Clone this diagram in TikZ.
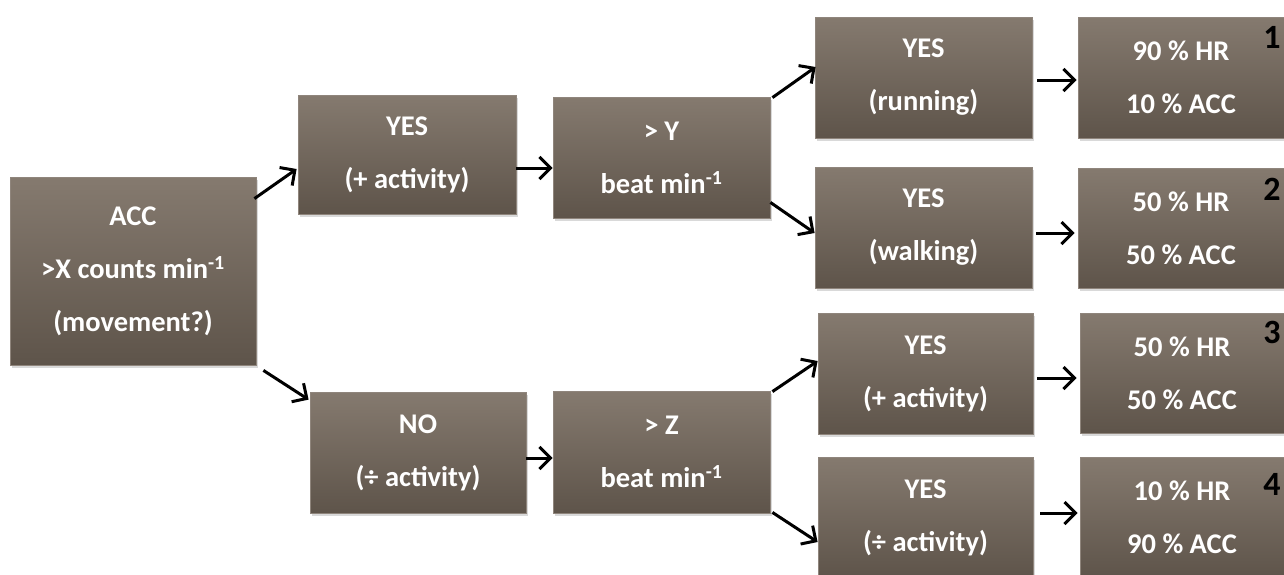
\documentclass[tikz,border=0pt]{standalone}
\usepackage{fontspec}
\setmainfont{Carlito}
\usepackage{tikz}
\usetikzlibrary{arrows.meta}
\usetikzlibrary{shadows}

\definecolor{boxtop}{HTML}{857A6F}
\definecolor{boxbot}{HTML}{5E544A}
\definecolor{boxline}{HTML}{8F857C}

\begin{document}
\begin{tikzpicture}[x=1pt, y=-1pt,
    box/.style={rectangle, inner sep=0pt, top color=boxtop, bottom color=boxbot,
        draw=boxline, line width=0.8pt, text=white, align=center,
        font=\fontsize{28.5}{53}\selectfont\bfseries,
        drop shadow={shadow xshift=1.5pt, shadow yshift=-3pt, opacity=0.3}},
    flow/.style={line width=3pt, -{Straight Barb[length=11pt,width=22pt]}},
    numlbl/.style={inner sep=0pt, text=black, font=\fontsize{34}{36}\selectfont\bfseries}]
    \useasboundingbox (0, 0) rectangle (1284, 574);
    % first split
    \node[box, minimum width=246, minimum height=188] (acc) at (133, 271) {ACC\\>X counts min\textsuperscript{-1}\\(movement?)};
    \node[box, minimum width=218, minimum height=119] (yesA) at (407, 154.5) {YES\\(+ activity)};
    \node[box, minimum width=216, minimum height=121] (noA) at (418, 452.5) {NO\\(÷ activity)};
    % heart rate checks
    \node[box, minimum width=217, minimum height=121] (beatY) at (661.5, 157.5) {> Y\\beat min\textsuperscript{-1}};
    \node[box, minimum width=217, minimum height=122] (beatZ) at (661.5, 452) {> Z\\beat min\textsuperscript{-1}};
    % outcomes
    \node[box, minimum width=217, minimum height=121] (run) at (923.5, 77.5) {YES\\(running)};
    \node[box, minimum width=217, minimum height=121] (walk) at (923.5, 227.5) {YES\\(walking)};
    \node[box, minimum width=215, minimum height=121] (yesB) at (925.5, 373.5) {YES\\(+ activity)};
    \node[box, minimum width=215, minimum height=121] (yesC) at (925.5, 517.5) {YES\\(÷ activity)};
    % weights
    \node[box, minimum width=206, minimum height=121] (wA) at (1181, 77.5) {90 \% HR\\10 \% ACC};
    \node[box, minimum width=206, minimum height=120] (wB) at (1181, 228) {50 \% HR\\50 \% ACC};
    \node[box, minimum width=204, minimum height=120] (wC) at (1182, 373) {50 \% HR\\50 \% ACC};
    \node[box, minimum width=204, minimum height=121] (wD) at (1182, 517.5) {10 \% HR\\90 \% ACC};
    \node[numlbl] (n1) at (1272, 37) {1};
    \node[numlbl] (n2) at (1272, 189) {2};
    \node[numlbl] (n3) at (1272, 332) {3};
    \node[numlbl] (n4) at (1272, 484) {4};
    % arrows
    \draw[flow] ([shift={(-2,22)}]acc.north east) to ([shift={(-1,14.5)}]yesA.west);
    \draw[flow] ([shift={(7,5)}]acc.south east) to ([shift={(-1,8)}]noA.north west);
    \draw[flow] ([shift={(0,13.5)}]yesA.east) to ([shift={(0,10.5)}]beatY.west);
    \draw[flow] ([shift={(0,5.5)}]noA.east) to ([shift={(0,6)}]beatZ.west);
    \draw[flow] ([shift={(2,1)}]beatY.north east) to ([shift={(1,-10.5)}]run.west);
    \draw[flow] ([shift={(0,-16)}]beatY.south east) to ([shift={(0,5.5)}]walk.west);
    \draw[flow] ([shift={(2,1)}]beatZ.north east) to ([shift={(0,-12.5)}]yesB.west);
    \draw[flow] ([shift={(2,-1)}]beatZ.south east) to ([shift={(0,24.5)}]yesC.west);
    \draw[flow] ([shift={(5,2.5)}]run.east) to ([shift={(-1,2.5)}]wA.west);
    \draw[flow] ([shift={(4,5.5)}]walk.east) to ([shift={(-3,5)}]wB.west);
    \draw[flow] ([shift={(4,4.5)}]yesB.east) to ([shift={(-3,5)}]wC.west);
    \draw[flow] ([shift={(7,-4.5)}]yesC.east) to ([shift={(-2,-4.5)}]wD.west);
\end{tikzpicture}
\end{document}
